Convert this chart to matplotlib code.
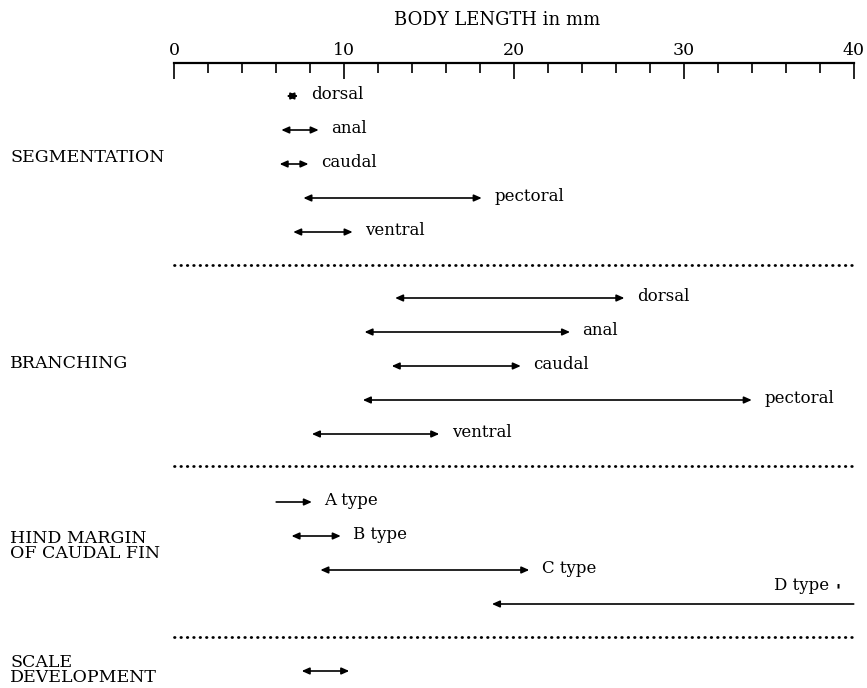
import matplotlib
matplotlib.use("Agg")
import matplotlib.pyplot as plt
from matplotlib.patches import FancyArrowPatch
from matplotlib.transforms import blended_transform_factory

plt.rcParams["font.family"] = ["DejaVu Serif"]

# Body-length ranges (mm) over which each developmental stage occurs
seg_labels = ["dorsal", "anal", "caudal", "pectoral", "ventral"]
seg_start = [6.6, 6.3, 6.2, 7.6, 7.0]
seg_end = [7.3, 8.5, 7.9, 18.1, 10.5]

branch_labels = ["dorsal", "anal", "caudal", "pectoral", "ventral"]
branch_start = [13.0, 11.2, 12.8, 11.1, 8.1]
branch_end = [26.5, 23.3, 20.4, 34.0, 15.6]

hind_labels = ["A type", "B type", "C type", "D type"]
hind_start = [6.0, 6.9, 8.6, 18.7]
hind_end = [8.1, 9.8, 20.9, 40.0]

scale_start = [7.5]
scale_end = [10.3]

major_ticks = [0, 10, 20, 30, 40]
minor_ticks = list(range(0, 41, 2))

W, H = 867, 688
fig = plt.figure(figsize=(W / 100, H / 100), dpi=100)
x0_px, x1_px, axis_y = 174.3, 853.7, 63
ax = fig.add_axes([x0_px / W, 0, (x1_px - x0_px) / W, (H - axis_y) / H])
ax.set_xlim(0, 40)
ax.set_ylim(H, axis_y)  # y in pixel rows from the top of the figure

for s in ["left", "right", "bottom"]:
    ax.spines[s].set_visible(False)
ax.spines["top"].set_linewidth(1.6)
ax.xaxis.tick_top()
ax.set_yticks([])
ax.set_xticks(major_ticks)
ax.set_xticks(minor_ticks, minor=True)
ax.tick_params(axis="x", which="major", direction="in", length=11.3, width=1.2,
               labelsize=12.5, pad=3)
ax.tick_params(axis="x", which="minor", direction="in", length=7, width=1.2)
ax.text(19.0, 20, "BODY LENGTH in mm", ha="center", va="center", fontsize=13)

row_step = 34
text_tf = blended_transform_factory(fig.transFigure, ax.transData)
label_size = 12
side_size = 12.5


def arrow(x_a, x_b, y, style):
    ax.add_patch(FancyArrowPatch((x_a, y), (x_b, y), arrowstyle=style,
                                 mutation_scale=10, shrinkA=0, shrinkB=0,
                                 lw=1.2, color="black", clip_on=False))


def draw_group(top, starts, ends, labels, styles):
    ys = []
    for i, (a, b) in enumerate(zip(starts, ends)):
        y = top + i * row_step
        ys.append(y)
        arrow(a, b, y, styles[i])
        if labels and labels[i]:
            ax.annotate(labels[i], (b, y), xytext=(9, 1), textcoords="offset points",
                        ha="left", va="center", fontsize=label_size)
    return ys


head = ",head_length=0.45,head_width=0.2"
both = "<|-|>" + head

# Segmentation
draw_group(96, seg_start, seg_end, seg_labels, [both] * 5)
ax.text(10 / W, 157, "SEGMENTATION", transform=text_tf, ha="left", va="center",
        fontsize=side_size)

# Branching
draw_group(298, branch_start, branch_end, branch_labels, [both] * 5)
ax.text(10 / W, 364, "BRANCHING", transform=text_tf, ha="left", va="center",
        fontsize=side_size)

# Hind margin of caudal fin
hind_styles = ["-|>" + head, both, both, "<|-" + head]
hys = draw_group(502, hind_start, hind_end, hind_labels[:3] + [""], hind_styles)
# the D-type label sits above its line, flush to the right end
ax.annotate(hind_labels[3], (hind_end[3], hys[3]), xytext=(-18, 13),
            textcoords="offset points", ha="right", va="center", fontsize=label_size)
ax.annotate("\u25ae", (hind_end[3], hys[3]), xytext=(-11, 13),
            textcoords="offset points", ha="center", va="center", fontsize=4)
ax.text(10 / W, 546, "HIND MARGIN\nOF CAUDAL FIN", transform=text_tf, ha="left",
        va="center", fontsize=side_size, linespacing=0.9)

# Scale development
draw_group(671, scale_start, scale_end, None, [both])
ax.text(10 / W, 670, "SCALE\nDEVELOPMENT", transform=text_tf, ha="left",
        va="center", fontsize=side_size, linespacing=0.9)

# dotted separators between the groups
for y in (265, 466, 637):
    ax.plot([0, 40.1], [y, y], color="black", lw=2.0, linestyle=(0, (0.2, 2.1)),
            dash_capstyle="round", clip_on=False)

fig.savefig("out.png", dpi=100)
